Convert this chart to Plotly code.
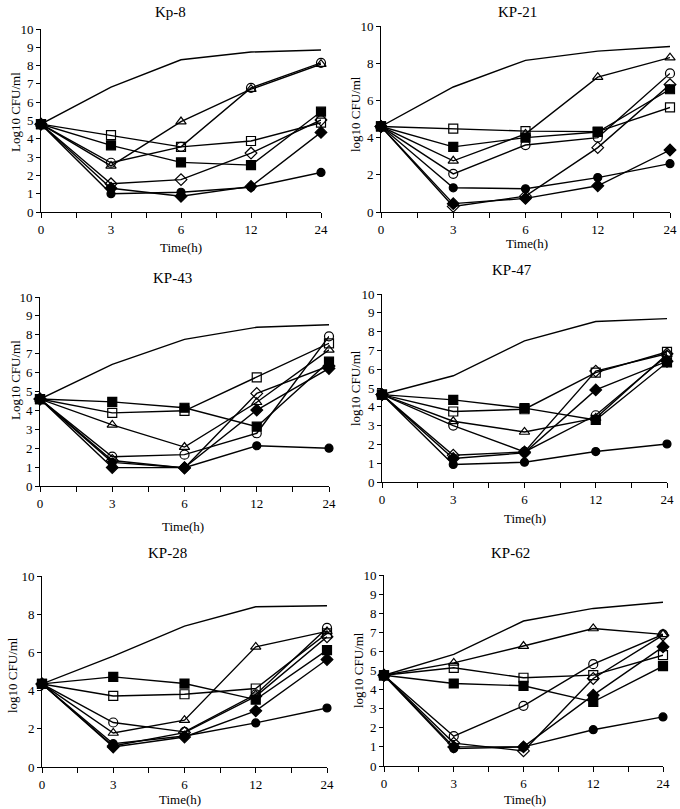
import plotly.graph_objects as go

times = ["0", "3", "6", "12", "24"]
panels = ["Kp-8", "KP-21", "KP-43", "KP-47", "KP-28", "KP-62"]
ylabels = ["Log10 CFU/ml", "log10 CFU/ml", "Log10 CFU/ml", "log10 CFU/ml", "log10 CFU/ml", "log10 CFU/ml"]
ydticks = [1, 2, 1, 1, 2, 1]

# series order: growth control, open square, filled square, open triangle,
# open circle, open diamond, filled diamond, filled circle
kp8 = [
    [4.8, 6.82, 8.32, 8.74, 8.85],
    [4.8, 4.20, 3.56, 3.88, 4.88],
    [4.8, 3.64, 2.71, 2.56, 5.48],
    [4.8, 2.52, 4.94, 6.71, 8.08],
    [4.8, 2.69, 3.56, 6.78, 8.15],
    [4.8, 1.54, 1.77, 3.22, 5.03],
    [4.8, 1.30, 0.86, 1.40, 4.35],
    [4.8, 1.00, 1.08, 1.35, 2.16],
]
kp21 = [
    [4.6, 6.72, 8.15, 8.65, 8.90],
    [4.6, 4.48, 4.35, 4.32, 5.62],
    [4.6, 3.50, 4.00, 4.30, 6.60],
    [4.6, 2.75, 4.20, 7.25, 8.30],
    [4.6, 2.05, 3.60, 4.00, 7.45],
    [4.6, 0.30, 0.85, 3.46, 6.85],
    [4.6, 0.45, 0.73, 1.41, 3.33],
    [4.6, 1.30, 1.25, 1.85, 2.60],
]
kp43 = [
    [4.6, 6.44, 7.76, 8.40, 8.53],
    [4.6, 3.87, 3.98, 5.75, 7.55],
    [4.6, 4.45, 4.14, 3.14, 6.58],
    [4.6, 3.23, 2.06, 4.43, 7.20],
    [4.6, 1.55, 1.66, 2.79, 7.92],
    [4.6, 1.35, 0.95, 4.90, 6.35],
    [4.6, 0.98, 0.97, 4.02, 6.22],
    [4.6, 1.25, 0.97, 2.13, 2.00],
]
kp47 = [
    [4.65, 5.65, 7.51, 8.54, 8.69],
    [4.65, 3.75, 3.87, 5.82, 6.92],
    [4.65, 4.37, 3.93, 3.30, 6.36],
    [4.65, 3.23, 2.66, 3.40, 6.80],
    [4.65, 3.00, 1.60, 3.55, 6.72],
    [4.65, 1.42, 1.60, 5.90, 6.82],
    [4.65, 1.25, 1.55, 4.90, 6.42],
    [4.65, 0.93, 1.05, 1.62, 2.02],
]
kp28 = [
    [4.35, 5.80, 7.38, 8.39, 8.44],
    [4.35, 3.72, 3.81, 4.11, 7.00],
    [4.35, 4.72, 4.37, 3.53, 6.12],
    [4.35, 1.78, 2.45, 6.29, 7.10],
    [4.35, 2.33, 1.84, 3.80, 7.28],
    [4.35, 1.10, 1.80, 3.70, 6.82],
    [4.35, 1.05, 1.57, 2.94, 5.63],
    [4.35, 1.22, 1.62, 2.31, 3.09],
]
kp62 = [
    [4.75, 5.84, 7.59, 8.25, 8.57],
    [4.75, 5.14, 4.62, 4.76, 5.80],
    [4.75, 4.32, 4.20, 3.36, 5.23],
    [4.75, 5.40, 6.28, 7.20, 6.89],
    [4.75, 1.56, 3.15, 5.33, 6.89],
    [4.75, 1.20, 0.79, 4.58, 6.85],
    [4.75, 1.00, 1.00, 3.71, 6.24],
    [4.75, 0.91, 1.00, 1.90, 2.57],
]
all_data = [kp8, kp21, kp43, kp47, kp28, kp62]

symbols = [None, "square-open", "square", "triangle-up-open", "circle-open",
           "diamond-open", "diamond", "circle"]
sizes = [0, 9, 9, 9, 9, 9, 9, 8]

W, H = 680, 809
# plot areas in pixels: (x0, x1, ytop, ybottom)
boxes = [
    (41, 321, 29, 212),
    (381, 670, 26, 212),
    (40, 329, 297, 486),
    (382, 667, 294, 482),
    (42, 327, 576, 767),
    (384, 663, 575, 766),
]
titles_pos = [(170, 12), (517, 12), (172, 278), (512, 270), (167, 553), (510, 553)]
xlab_pos = [(181, 247), (527, 244), (183, 526), (525, 518), (180, 799), (525, 799)]
ylab_pos = [(15, 112), (355, 114), (15, 380), (355, 388), (12, 675), (358, 670)]

FONT = "Liberation Serif"
fig = go.Figure()
xpos = list(range(len(times)))

for p, data in enumerate(all_data):
    xa = "x" if p == 0 else f"x{p+1}"
    ya = "y" if p == 0 else f"y{p+1}"
    for s, vals in enumerate(data):
        if symbols[s] is None:
            fig.add_trace(go.Scatter(x=xpos, y=vals, mode="lines",
                                     line=dict(color="black", width=1.4),
                                     xaxis=xa, yaxis=ya, showlegend=False,
                                     cliponaxis=False))
        else:
            fig.add_trace(go.Scatter(x=xpos, y=vals, mode="lines+markers",
                                     line=dict(color="black", width=1.4),
                                     marker=dict(symbol=symbols[s], size=sizes[s],
                                                 color="black",
                                                 line=dict(color="black", width=1.2)),
                                     xaxis=xa, yaxis=ya, showlegend=False,
                                     cliponaxis=False))
    x0, x1, yt, yb = boxes[p]
    axx = dict(domain=[x0 / W, x1 / W], range=[0, len(times) - 1],
               anchor=ya, showgrid=False, zeroline=False, showline=True,
               automargin=False,
               linecolor="black", linewidth=1, ticks="outside", ticklen=5,
               tickcolor="black", tickvals=xpos, ticktext=times,
               minor=dict(ticks="outside", ticklen=5, tickcolor="black",
                          dtick=0.5, tick0=0, showgrid=False),
               tickfont=dict(family=FONT, size=13, color="black"))
    axy = dict(domain=[1 - yb / H, 1 - yt / H], range=[0, 10], dtick=ydticks[p],
               anchor=xa, showgrid=False, zeroline=False, showline=True,
               automargin=False,
               linecolor="black", linewidth=1, ticks="outside", ticklen=4,
               tickcolor="black",
               tickfont=dict(family=FONT, size=13, color="black"))
    key = "" if p == 0 else str(p + 1)
    fig.layout["xaxis" + key] = axx
    fig.layout["yaxis" + key] = axy

    tx, ty = titles_pos[p]
    fig.add_annotation(x=tx / W, y=1 - ty / H, xref="paper", yref="paper",
                       xanchor="center", yanchor="middle",
                       text=panels[p], showarrow=False,
                       font=dict(family=FONT, size=15, color="black"))
    lx, ly = xlab_pos[p]
    fig.add_annotation(x=lx / W, y=1 - ly / H, xref="paper", yref="paper",
                       xanchor="center", yanchor="middle",
                       text="Time(h)", showarrow=False,
                       font=dict(family=FONT, size=13, color="black"))
    yx, yy = ylab_pos[p]
    fig.add_annotation(x=yx / W, y=1 - yy / H, xref="paper", yref="paper",
                       xanchor="center", yanchor="middle",
                       text=ylabels[p], showarrow=False, textangle=-90,
                       font=dict(family=FONT, size=13, color="black"))

fig.update_layout(template="none", width=W, height=H,
                  margin=dict(l=0, r=0, t=0, b=0, autoexpand=False),
                  paper_bgcolor="white", plot_bgcolor="white")
fig.write_html("out.html", config={"displayModeBar": False},
               post_script="document.body.style.margin='0px';"
                           "document.body.style.overflow='hidden';")
